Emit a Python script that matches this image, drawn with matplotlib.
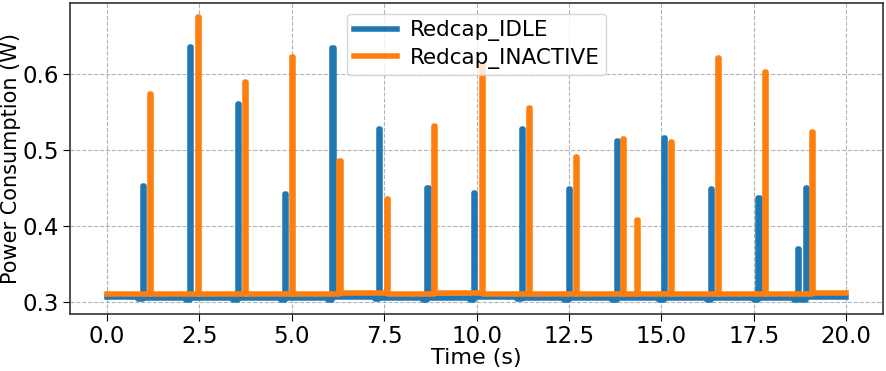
# Power consumption over time, Redcap IDLE vs INACTIVE

import matplotlib
matplotlib.use('Agg')
import matplotlib.pyplot as plt

# spike times (s) and peak power (W)
idle_times = [0.97, 2.25, 3.54, 4.82, 6.10, 7.37, 8.67, 9.94, 11.22, 12.49,
              13.79, 15.06, 16.35, 17.63, 18.70, 18.91]
idle_peaks = [0.452, 0.636, 0.561, 0.442, 0.634, 0.528, 0.450, 0.443, 0.528, 0.448,
              0.512, 0.516, 0.449, 0.437, 0.369, 0.450]
idle_base = [0.306, 0.305, 0.305, 0.305, 0.305, 0.306, 0.305, 0.305, 0.306,
             0.305, 0.305, 0.305, 0.305, 0.305, 0.305, 0.305, 0.306]

inactive_times = [1.15, 2.45, 3.73, 5.01, 6.29, 7.57, 8.84, 10.14, 11.42, 12.69,
                  13.97, 14.33, 15.25, 16.53, 17.81, 19.08]
inactive_peaks = [0.573, 0.675, 0.589, 0.623, 0.486, 0.435, 0.531, 0.610, 0.555, 0.490,
                  0.514, 0.408, 0.510, 0.621, 0.602, 0.524]
inactive_base = [0.3105, 0.3095, 0.310, 0.310, 0.3105, 0.311, 0.3105, 0.3115, 0.310,
                 0.3095, 0.3095, 0.3095, 0.310, 0.310, 0.310, 0.3105, 0.312]

t_end = 20.0


def trace(times, peaks, bases, dip):
    # turn spike list into a stepped trace
    t = [0.0]
    y = [bases[0]]
    for i in range(len(times)):
        tk, pk = times[i], peaks[i]
        t += [tk - 0.12, tk - 0.12, tk, tk, tk + 0.03, tk + 0.03]
        y += [bases[i], bases[i] - dip, bases[i] - dip, pk, pk, bases[i + 1]]
    t.append(t_end)
    y.append(bases[-1])
    return t, y


t1, p1 = trace(idle_times, idle_peaks, idle_base, 0.0025)
t2, p2 = trace(inactive_times, inactive_peaks, inactive_base, 0.0)

plt.rcParams['font.family'] = 'DejaVu Sans'
fig = plt.figure(figsize=(8.87, 3.71), dpi=100)
ax = fig.add_subplot(111)
fig.subplots_adjust(left=0.079, right=0.9955, bottom=0.154, top=0.992)

ax.plot(t1, p1, color='#1f77b4', lw=4, label='Redcap_IDLE')
ax.plot(t2, p2, color='#ff7f0e', lw=4, label='Redcap_INACTIVE')

ax.set_xticks([0, 2.5, 5, 7.5, 10, 12.5, 15, 17.5, 20])
ax.set_yticks([0.3, 0.4, 0.5, 0.6])
ax.tick_params(labelsize=16.5, length=5, pad=3)
ax.set_xlabel('Time (s)', fontsize=16, labelpad=0)
ax.set_ylabel('Power Consumption (W)', fontsize=15, labelpad=1)
ax.grid(True, ls='--', color='gray', alpha=0.6, lw=0.8)
for s in ax.spines.values():
    s.set_color('#333333')
    s.set_linewidth(1.2)
ax.legend(loc='upper center', fontsize=15.5, handlelength=2.0, borderpad=0.3,
          labelspacing=0.3, handletextpad=0.6)

plt.savefig('out.png', dpi=100)
